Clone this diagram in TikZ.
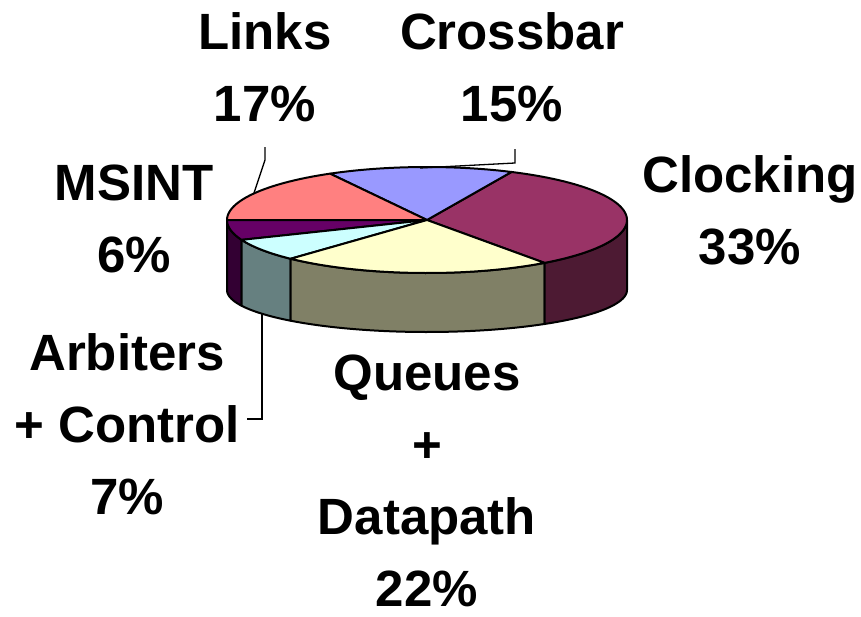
\documentclass[tikz,border=0pt]{standalone}
\usepackage{fontspec}
\setmainfont{Liberation Sans}
\usetikzlibrary{calc}

\definecolor{clocktop}{HTML}{993366}
\definecolor{clockside}{HTML}{4D1A33}
\definecolor{xbartop}{HTML}{9999FF}
\definecolor{linktop}{HTML}{FF8080}
\definecolor{msinttop}{HTML}{660066}
\definecolor{msintside}{HTML}{330033}
\definecolor{arbtop}{HTML}{CCFFFF}
\definecolor{arbside}{HTML}{668080}
\definecolor{quetop}{HTML}{FFFFCC}
\definecolor{queside}{HTML}{808066}

% rim of the pie, top and bottom ellipse
\newcommand{\rimx}[1]{427+200*cos(#1)}
\newcommand{\rimtop}[1]{220-53*sin(#1)}
\newcommand{\rimbot}[1]{290-42*sin(#1)}

\begin{document}
\begin{tikzpicture}[x=1pt, y=-1pt,
    rim/.style={draw=black, line width=2pt, line join=round},
    leader/.style={draw=black, line width=1.3pt},
    lbl/.style={anchor=north, inner sep=0pt, align=center,
        font=\fontsize{51}{72}\selectfont\bfseries}]
\useasboundingbox (0,0) rectangle (861,616);

% side faces
\path[rim, fill=msintside] plot[domain=180:202, samples=20] ({\rimx{\x}},{\rimtop{\x}})
    -- plot[domain=202:180, samples=20] ({\rimx{\x}},{\rimbot{\x}}) -- cycle;
\path[rim, fill=arbside] plot[domain=202:227, samples=20] ({\rimx{\x}},{\rimtop{\x}})
    -- plot[domain=227:202, samples=20] ({\rimx{\x}},{\rimbot{\x}}) -- cycle;
\path[rim, fill=queside] plot[domain=227:306, samples=40] ({\rimx{\x}},{\rimtop{\x}})
    -- plot[domain=306:227, samples=40] ({\rimx{\x}},{\rimbot{\x}}) -- cycle;
\path[rim, fill=clockside] plot[domain=306:360, samples=30] ({\rimx{\x}},{\rimtop{\x}})
    -- plot[domain=360:306, samples=30] ({\rimx{\x}},{\rimbot{\x}}) -- cycle;

% top slices
\coordinate (ctr) at (427,220);
\path[rim, fill=clocktop] (ctr) -- plot[domain=306:425, samples=60] ({\rimx{\x}},{\rimtop{\x}}) -- cycle;
\path[rim, fill=xbartop] (ctr) -- plot[domain=65:119, samples=30] ({\rimx{\x}},{\rimtop{\x}}) -- cycle;
\path[rim, fill=linktop] (ctr) -- plot[domain=119:180, samples=30] ({\rimx{\x}},{\rimtop{\x}}) -- cycle;
\path[rim, fill=msinttop] (ctr) -- plot[domain=180:202, samples=20] ({\rimx{\x}},{\rimtop{\x}}) -- cycle;
\path[rim, fill=arbtop] (ctr) -- plot[domain=202:227, samples=20] ({\rimx{\x}},{\rimtop{\x}}) -- cycle;
\path[rim, fill=quetop] (ctr) -- plot[domain=227:306, samples=40] ({\rimx{\x}},{\rimtop{\x}}) -- cycle;

% labels
\node[lbl] (lnk) at (265,12) {Links\\17\%};
\node[lbl] (xbar) at (512,12) {Crossbar\\15\%};
\node[lbl] (msint) at (134,165) {MSINT\\6\%};
\node[lbl] (clk) at (750,155) {Clocking\\33\%};
\node[lbl] (arb) at (127,333) {Arbiters\\+ Control\\7\%};
\node[lbl] (que) at (427,355) {Queues\\+\\Datapath\\22\%};

% leader lines
\coordinate (lnkA) at (265,147);
\coordinate (lnkB) at (265,160);
\coordinate (lnkC) at (254,193);
\coordinate (xbarA) at (515,149);
\coordinate (xbarB) at (515,163);
\coordinate (xbarC) at (420,168);
\coordinate (arbA) at (262,313);
\coordinate (arbB) at (262,419);
\coordinate (arbC) at (247,419);
\draw[leader] (lnkA) -- (lnkB) -- (lnkC);
\draw[leader] (xbarA) -- (xbarB) -- (xbarC);
\draw[leader] (arbA) -- (arbB) -- (arbC);
\end{tikzpicture}
\end{document}
